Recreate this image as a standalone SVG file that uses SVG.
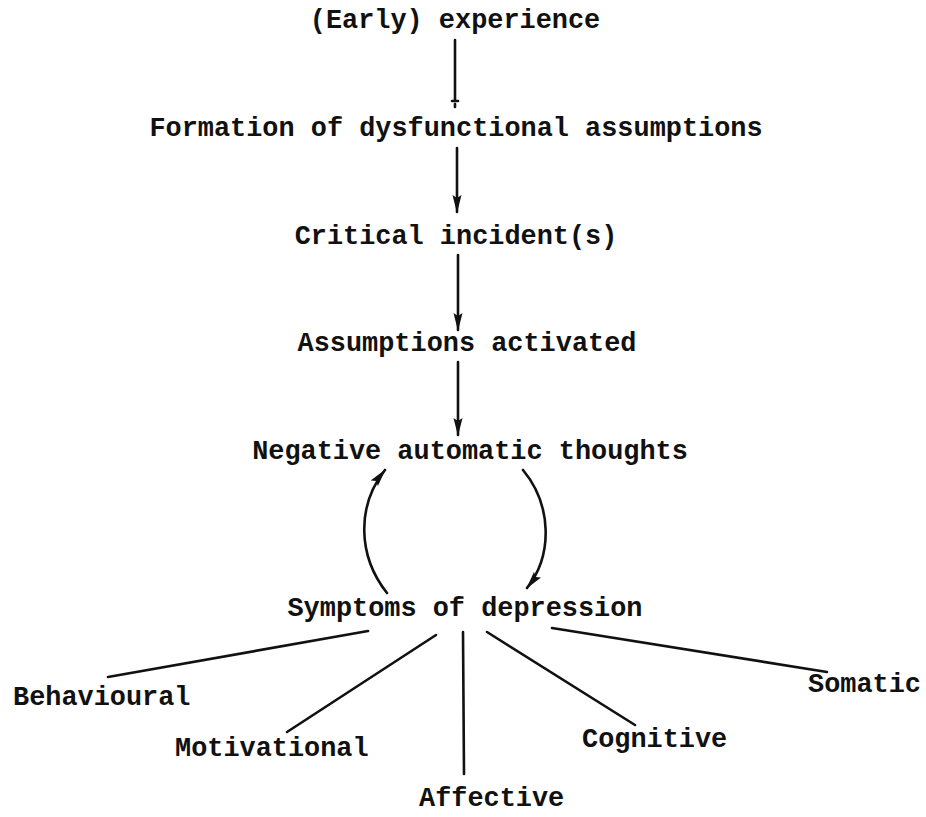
<svg xmlns="http://www.w3.org/2000/svg" width="926" height="817" viewBox="0 0 926 817">
  <style>
    .t { font-family: "Liberation Mono", "Courier New", monospace; font-weight: bold; font-size: 26.9px; fill: #111; }
    .c { text-anchor: middle; }
    .ln { stroke: #111; stroke-width: 2.6; fill: none; stroke-linecap: round; }
  </style>
  <defs>
    <marker id="head" viewBox="0 0 18 10" refX="17" refY="5" markerWidth="18" markerHeight="10" markerUnits="userSpaceOnUse" orient="auto">
      <path d="M0,0.5 L18,5 L0,9.5 L3,5 Z" fill="#111"/>
    </marker>
  </defs>

  <rect width="926" height="817" fill="#fff"/>

  <!-- chain of stages -->
  <g id="early"><text class="t c" x="455" y="28">(Early) experience</text></g>
  <g id="formation"><text class="t c" x="456" y="136">Formation of dysfunctional assumptions</text></g>
  <g id="critical"><text class="t c" x="456" y="244">Critical incident(s)</text></g>
  <g id="activated"><text class="t c" x="467" y="351">Assumptions activated</text></g>
  <g id="nat"><text class="t c" x="470" y="459">Negative automatic thoughts</text></g>
  <g id="symptoms"><text class="t c" x="465" y="616">Symptoms of depression</text></g>

  <!-- symptom types -->
  <g id="behavioural"><text class="t" x="13" y="705">Behavioural</text></g>
  <g id="motivational"><text class="t" x="175" y="756">Motivational</text></g>
  <g id="affective"><text class="t" x="419" y="806">Affective</text></g>
  <g id="cognitive"><text class="t" x="582" y="747">Cognitive</text></g>
  <g id="somatic"><text class="t" x="808" y="692">Somatic</text></g>

  <g id="connectors">
    <!-- early experience to assumptions: plain line with small end tick -->
    <path class="ln" d="M455,40 L455,101"/>
    <path class="ln" d="M452,101 L458,101" stroke-width="2"/>
    <path class="ln" d="M455,104 L455,107" stroke-width="1.5"/>

    <path class="ln" d="M457,148 L457,212" marker-end="url(#head)"/>
    <path class="ln" d="M458,255 L458,330" marker-end="url(#head)"/>
    <path class="ln" d="M458,362 L458,435" marker-end="url(#head)"/>

    <!-- feedback loop -->
    <path class="ln" d="M387,593 C357,555 357,505 385,470" marker-end="url(#head)"/>
    <path class="ln" d="M523,470 C552,505 553,555 527,588" marker-end="url(#head)"/>

    <!-- branches to symptom types -->
    <path class="ln" d="M368,631 L108,677"/>
    <path class="ln" d="M436,635 L287,732"/>
    <path class="ln" d="M463,632 L464,774"/>
    <path class="ln" d="M487,632 L635,725"/>
    <path class="ln" d="M552,628 L827,672"/>
  </g>
</svg>
